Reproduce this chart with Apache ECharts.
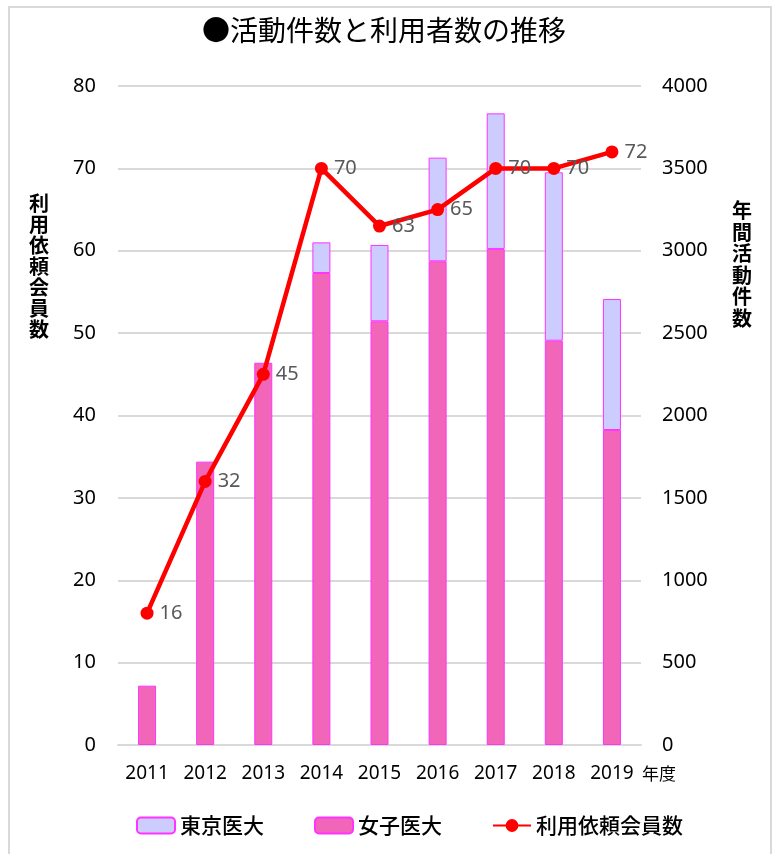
<!DOCTYPE html>
<html>
<head>
    <meta charset="utf-8">
    <script src="https://cdn.jsdelivr.net/npm/echarts@6/dist/echarts.min.js"></script>
    <style>
        body { margin: 0; background: #fff; }
    </style>
</head>
<body>
    <div id="main" style="width: 777px;height:854px;"></div>
    <script type="text/javascript">
        // データ
        var years = ['2011', '2012', '2013', '2014', '2015', '2016', '2017', '2018', '2019'];
        var joshi = [360, 1720, 2320, 2865, 2572, 2936, 3011, 2454, 1912];   // 女子医大
        var tokyo = [null, null, null, 186, 463, 629, 823, 1022, 795];       // 東京医大
        var members = [16, 32, 45, 70, 63, 65, 70, 70, 72];                  // 利用依頼会員数

        var font = "'Noto Sans', 'Noto Sans CJK JP', sans-serif";
        var myChart = echarts.init(document.getElementById('main'));

        var option = {
            backgroundColor: '#fff',
            animation: false,
            textStyle: { fontFamily: font },
            title: {
                text: '●活動件数と利用者数の推移',
                left: 197,
                top: 11,
                textStyle: {
                    fontFamily: "'Noto Sans CJK JP', sans-serif",
                    fontSize: 28,
                    fontWeight: 'normal',
                    color: '#000'
                }
            },
            graphic: [
                {
                    type: 'rect',
                    shape: { x: 9, y: 7, width: 762, height: 870 },
                    style: { fill: 'none', stroke: '#d9d9d9', lineWidth: 2 },
                    silent: true
                },
                {
                    type: 'text',
                    left: 29, top: 193,
                    style: {
                        text: '利\n用\n依\n頼\n会\n員\n数',
                        font: "bold 20px 'Noto Sans CJK JP'",
                        lineHeight: 21,
                        fill: '#000'
                    }
                },
                {
                    type: 'text',
                    left: 732, top: 200,
                    style: {
                        text: '年\n間\n活\n動\n件\n数',
                        font: "bold 20px 'Noto Sans CJK JP'",
                        lineHeight: 21.5,
                        fill: '#000'
                    }
                },
                {
                    type: 'text',
                    left: 642, top: 765,
                    style: {
                        text: '年度',
                        font: "17px 'Noto Sans CJK JP'",
                        fill: '#000'
                    }
                }
            ],
            legend: {
                data: ['東京医大', '女子医大', '利用依頼会員数'],
                left: 131,
                top: 810,
                itemWidth: 38,
                itemHeight: 16,
                itemGap: 50,
                textStyle: {
                    fontFamily: "'Noto Sans CJK JP', sans-serif",
                    fontSize: 21,
                    fontWeight: 500,
                    color: '#000'
                }
            },
            grid: {
                left: 118,
                right: 136,
                top: 86,
                bottom: 109
            },
            xAxis: {
                type: 'category',
                data: years,
                axisTick: { show: false },
                axisLine: { lineStyle: { color: '#d9d9d9', width: 2 } },
                axisLabel: { color: '#000', fontSize: 19, margin: 19 }
            },
            yAxis: [
                {
                    type: 'value',
                    min: 0, max: 80, interval: 10,
                    axisLabel: { color: '#000', fontSize: 20, margin: 22 },
                    splitLine: { lineStyle: { color: '#d9d9d9', width: 2 } }
                },
                {
                    type: 'value',
                    min: 0, max: 4000, interval: 500,
                    axisLabel: {
                        color: '#000', fontSize: 20, margin: 21,
                        formatter: function (v) { return String(v); }
                    },
                    splitLine: { show: false }
                }
            ],
            series: [
                {
                    name: '女子医大',
                    type: 'bar',
                    stack: 'a',
                    yAxisIndex: 1,
                    barWidth: 18,
                    data: joshi,
                    itemStyle: { color: '#f266b9', borderColor: '#ff33ff', borderWidth: 1 }
                },
                {
                    name: '東京医大',
                    type: 'bar',
                    stack: 'a',
                    yAxisIndex: 1,
                    barWidth: 18,
                    data: tokyo,
                    itemStyle: { color: '#ccccff', borderColor: '#ff33ff', borderWidth: 1 }
                },
                {
                    name: '利用依頼会員数',
                    type: 'line',
                    yAxisIndex: 0,
                    data: members,
                    symbol: 'circle',
                    symbolSize: 13,
                    z: 5,
                    lineStyle: { color: '#ff0000', width: 4.5 },
                    itemStyle: { color: '#ff0000' },
                    label: {
                        show: true,
                        position: 'right',
                        distance: 6,
                        color: '#595959',
                        fontSize: 20
                    }
                }
            ]
        };

        myChart.setOption(option);
    </script>
</body>
</html>
